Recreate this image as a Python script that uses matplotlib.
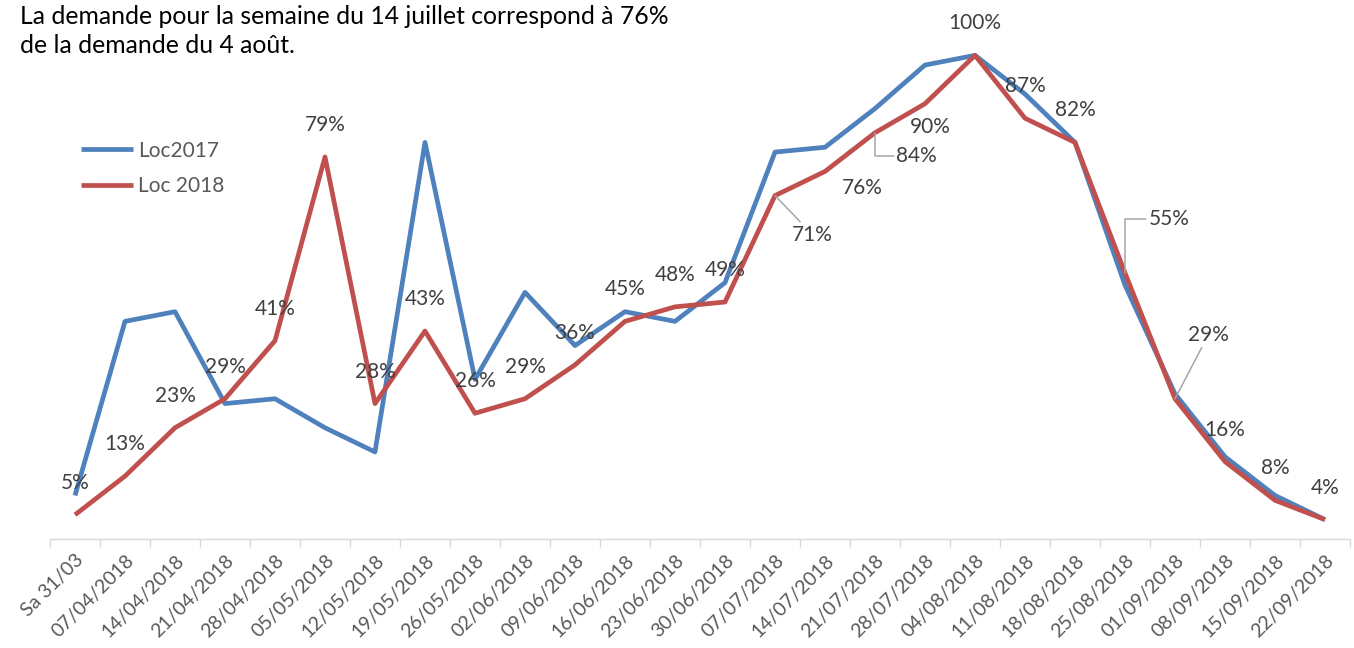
import numpy as np
import matplotlib.pyplot as plt

plt.rcParams['font.family'] = ['Lato', 'DejaVu Sans']

# categories (weeks)
weeks = ['Sa 31/03', '07/04/2018', '14/04/2018', '21/04/2018', '28/04/2018',
         '05/05/2018', '12/05/2018', '19/05/2018', '26/05/2018', '02/06/2018',
         '09/06/2018', '16/06/2018', '23/06/2018', '30/06/2018', '07/07/2018',
         '14/07/2018', '21/07/2018', '28/07/2018', '04/08/2018', '11/08/2018',
         '18/08/2018', '25/08/2018', '01/09/2018', '08/09/2018', '15/09/2018',
         '22/09/2018']

# share of peak demand
loc2017 = [0.09, 0.45, 0.47, 0.28, 0.29, 0.23, 0.18, 0.82, 0.33, 0.51,
           0.40, 0.47, 0.45, 0.53, 0.80, 0.81, 0.89, 0.98, 1.00, 0.92,
           0.82, 0.525, 0.30, 0.17, 0.09, 0.04]
loc2018 = [0.05, 0.13, 0.23, 0.29, 0.41, 0.79, 0.28, 0.43, 0.26, 0.29,
           0.36, 0.45, 0.48, 0.49, 0.71, 0.76, 0.84, 0.90, 1.00, 0.87,
           0.82, 0.55, 0.29, 0.16, 0.08, 0.04]

BLUE = '#4f81bd'
RED = '#c0504d'
LEADER = '#a6a6a6'

x = np.arange(len(weeks))

fig = plt.figure(figsize=(13.54, 6.48), dpi=100)
ax = fig.add_axes([50 / 1354, 109 / 648, 1300 / 1354, 532 / 648])

ax.plot(x, loc2017, color=BLUE, lw=3.4, label='Loc2017', solid_capstyle='butt')
ax.plot(x, loc2018, color=RED, lw=3.4, label='Loc 2018', solid_capstyle='butt')

ax.set_xlim(-0.5, len(weeks) - 0.5)
ax.set_ylim(0, 1.1)

# data labels for 2018 (offsets in points; some moved with leader lines)
custom = {
    14: (27, -28, 'arc3'),
    15: (27, -12, None),
    16: (30, -17, 'angle,angleA=0,angleB=90,rad=0'),
    17: (4, -17, None),
    21: (32, 39, 'angle,angleA=0,angleB=90,rad=0'),
    22: (24, 46, 'arc3'),
}
for i, v in enumerate(loc2018):
    txt = '{:.0f}%'.format(v * 100)
    if i in custom:
        dx, dy, conn = custom[i]
        arrow = None
        if conn is not None:
            arrow = dict(arrowstyle='-', color=LEADER, lw=1.1,
                         shrinkA=0, shrinkB=0, connectionstyle=conn)
        ax.annotate(txt, (x[i], v), xytext=(dx, dy), textcoords='offset points',
                    ha='center', va='center', fontsize=15, color='#404040',
                    arrowprops=arrow)
    else:
        ax.annotate(txt, (x[i], v), xytext=(0, 23), textcoords='offset points',
                    ha='center', va='center', fontsize=15, color='#404040')

# axes styling
for s in ['top', 'right', 'left']:
    ax.spines[s].set_visible(False)
ax.spines['bottom'].set_color('#d9d9d9')
ax.spines['bottom'].set_linewidth(1.0)
ax.set_yticks([])
ax.set_xticks(x)
ax.set_xticklabels(weeks, rotation=45, ha='right', va='top',
                   rotation_mode='anchor', fontsize=14, color='#595959')
ax.tick_params(axis='x', which='major', length=0, pad=9)
ax.set_xticks(np.arange(-0.5, len(weeks)), minor=True)
ax.tick_params(axis='x', which='minor', length=6, color='#d9d9d9', width=1.0)

leg = ax.legend(loc='upper left', bbox_to_anchor=(62 / 1354, 1 - 122 / 648),
                bbox_transform=fig.transFigure, frameon=False, fontsize=15,
                handlelength=2.5, labelspacing=0.75, handletextpad=0.25)
for t in leg.get_texts():
    t.set_color('#595959')

fig.text(20 / 1354, 1 - 5 / 648,
         'La demande pour la semaine du 14 juillet correspond à 76%\n'
         'de la demande du 4 août.',
         ha='left', va='top', fontsize=17.8, color='black', linespacing=1.3)

fig.savefig('out.png', dpi=100)
